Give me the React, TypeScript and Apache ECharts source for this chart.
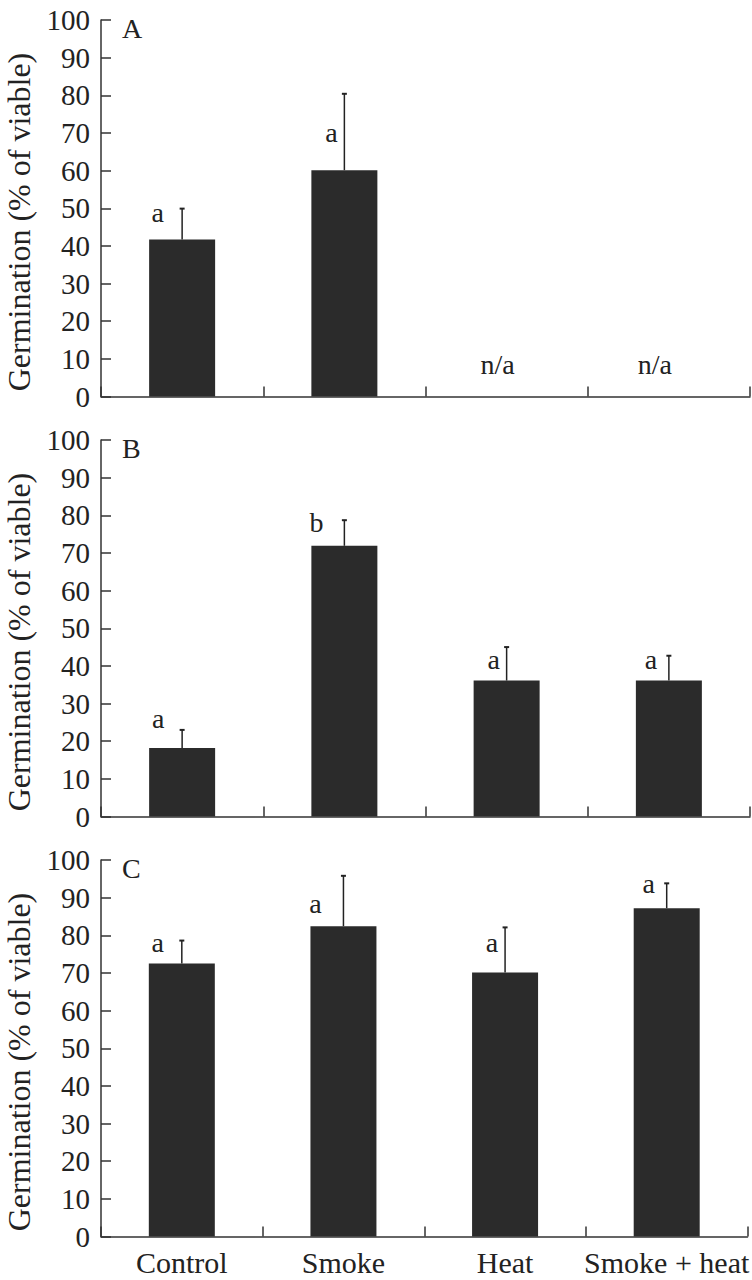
import React, { useEffect, useRef } from "react";
import * as echarts from "echarts";

// ---------- data ----------
const categories = ["Control", "Smoke", "Heat", "Smoke + heat"];
const panelNames = ["A", "B", "C"];
const yTitle = "Germination (% of viable)";

const meanA = [41.7, 60.1, null, null];
const errTopA = [49.9, 80.4, null, null];
const lettersA = ["a", "a", "n/a", "n/a"];
const letterYA = [46.3, 67.6, 6.1, 6.1];

const meanB = [18.2, 71.9, 36.1, 36.1];
const errTopB = [23.0, 78.7, 45.0, 42.7];
const lettersB = ["a", "b", "a", "a"];
const letterYB = [23.5, 75.6, 39.1, 39.1];

const meanC = [72.5, 82.4, 70.1, 87.2];
const errTopC = [78.6, 95.8, 82.1, 93.8];
const lettersC = ["a", "a", "a", "a"];
const letterYC = [75.7, 85.9, 75.7, 91.2];

// ---------- layout / style ----------
const FONT = "Liberation Serif";
const INK = "#222";
const BAR = "#2b2b2b";
const AXIS = "#333";
const GRID_LEFT = 101;
const GRID_W = 649;
const GRID_H = 376.5;
const PANEL_TOPS = [20, 440, 860];
const LETTER_DX = [
  [-24.5, -13, -9, -14],
  [-24, -28, -13, -18],
  [-24, -28, -13, -18],
];

const panels = [
  { mean: meanA, err: errTopA, letters: lettersA, letterY: letterYA },
  { mean: meanB, err: errTopB, letters: lettersB, letterY: letterYB },
  { mean: meanC, err: errTopC, letters: lettersC, letterY: letterYC },
];

function buildOption() {
  const grid: any[] = [];
  const xAxis: any[] = [];
  const yAxis: any[] = [];
  const series: any[] = [];
  const graphic: any[] = [];

  panels.forEach((p, k) => {
    grid.push({ left: GRID_LEFT, top: PANEL_TOPS[k], width: GRID_W, height: GRID_H });
    xAxis.push({
      type: "category",
      gridIndex: k,
      data: categories,
      boundaryGap: true,
      axisLine: { show: true, lineStyle: { color: AXIS, width: 1.5 } },
      axisTick: { show: true, inside: true, length: 10, interval: 0, lineStyle: { color: AXIS, width: 1.5 } },
      axisLabel: {
        show: k === 2,
        interval: 0,
        margin: 11,
        color: INK,
        fontFamily: FONT,
        fontSize: 30,
      },
      splitLine: { show: false },
    });
    yAxis.push({
      type: "value",
      gridIndex: k,
      min: 0,
      max: 100,
      interval: 10,
      axisLine: { show: true, lineStyle: { color: AXIS, width: 1.5 } },
      axisTick: { show: true, inside: true, length: 10, lineStyle: { color: AXIS, width: 1.5 } },
      axisLabel: { margin: 11, color: INK, fontFamily: FONT, fontSize: 29 },
      splitLine: { show: false },
    });

    series.push({
      type: "bar",
      xAxisIndex: k,
      yAxisIndex: k,
      data: p.mean.map((v) => (v == null ? "-" : v)),
      barWidth: 66,
      itemStyle: { color: BAR },
      silent: true,
    });

    series.push({
      type: "custom",
      xAxisIndex: k,
      yAxisIndex: k,
      silent: true,
      data: p.mean
        .map((v, i) => (v == null || p.err[i] == null ? null : [i, v, p.err[i]]))
        .filter((d) => d !== null),
      renderItem: (params: any, api: any) => {
        const i = api.value(0);
        const lo = api.coord([i, api.value(1)]);
        const hi = api.coord([i, api.value(2)]);
        const st = { stroke: INK, lineWidth: 1.5 };
        return {
          type: "group",
          children: [
            { type: "line", shape: { x1: lo[0], y1: lo[1], x2: hi[0], y2: hi[1] }, style: st },
            { type: "line", shape: { x1: hi[0] - 2.5, y1: hi[1], x2: hi[0] + 2.5, y2: hi[1] }, style: { stroke: INK, lineWidth: 2 } },
          ],
        };
      },
    });

    series.push({
      type: "custom",
      xAxisIndex: k,
      yAxisIndex: k,
      silent: true,
      data: p.letters.map((t, i) => [i, p.letterY[i], t]),
      renderItem: (params: any, api: any) => {
        const i = api.value(0);
        const pt = api.coord([i, api.value(1)]);
        const fs = 28;
        return {
          type: "text",
          x: pt[0] + LETTER_DX[k][i],
          y: pt[1] - 0.3375 * fs,
          style: {
            text: p.letters[i],
            fill: INK,
            fontFamily: FONT,
            fontSize: fs,
            textAlign: "center",
            textVerticalAlign: "middle",
          },
        };
      },
    });

    graphic.push({
      type: "text",
      x: 122,
      y: PANEL_TOPS[k] + 8.5,
      style: {
        text: panelNames[k],
        fill: INK,
        fontFamily: FONT,
        fontSize: 28,
        textAlign: "left",
        textVerticalAlign: "middle",
      },
    });
    graphic.push({
      type: "text",
      x: 19,
      y: PANEL_TOPS[k] + 202,
      rotation: Math.PI / 2,
      style: {
        text: yTitle,
        fill: INK,
        fontFamily: FONT,
        fontSize: 32,
        textAlign: "center",
        textVerticalAlign: "middle",
      },
    });
  });

  return {
    animation: false,
    backgroundColor: "#ffffff",
    textStyle: { fontFamily: FONT },
    grid,
    xAxis,
    yAxis,
    series,
    graphic,
  };
}

export default function App() {
  const ref = useRef<HTMLDivElement>(null);
  useEffect(() => {
    if (!ref.current) return;
    const chart = echarts.init(ref.current, undefined, { renderer: "svg" });
    chart.setOption(buildOption() as any);
    return () => chart.dispose();
  }, []);
  return (
    <div
      ref={ref}
      style={{ position: "fixed", left: 0, top: 0, width: 752, height: 1280, background: "#fff" }}
    />
  );
}
